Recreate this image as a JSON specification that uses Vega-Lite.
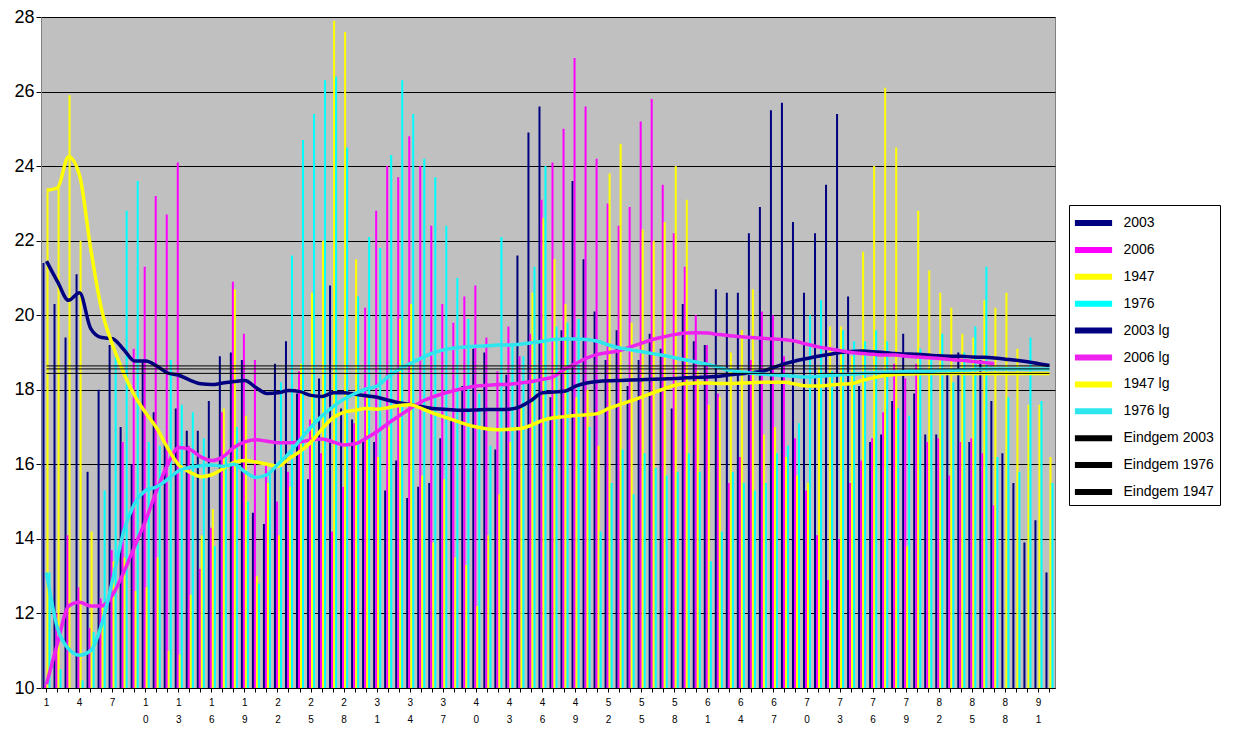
{
  "$schema": "https://vega.github.io/schema/vega-lite/v6.json",
  "width": 1014,
  "height": 671,
  "autosize": {"type": "none"},
  "padding": {"left": 41, "top": 17, "right": 179, "bottom": 51},
  "background": "white",
  "data": {
    "values": [
      {"d":1,"2003":21.4,"2006":10.1,"1947":23.3,"1976":13.1,"2003 lg":21.45,"2006 lg":10.1,"1947 lg":23.35,"1976 lg":13.1},
      {"d":2,"2003":20.3,"2006":12.0,"1947":23.4,"1976":10.5,"2003 lg":20.9,"2006 lg":11.2,"1947 lg":23.42,"1976 lg":11.6},
      {"d":3,"2003":19.4,"2006":14.1,"1947":25.9,"1976":10.0,"2003 lg":20.4,"2006 lg":12.2,"1947 lg":24.25,"1976 lg":11.05},
      {"d":4,"2003":21.1,"2006":12.7,"1947":22.0,"1976":10.2,"2003 lg":20.6,"2006 lg":12.3,"1947 lg":23.75,"1976 lg":10.88},
      {"d":5,"2003":15.8,"2006":11.6,"1947":14.2,"1976":11.5,"2003 lg":19.65,"2006 lg":12.2,"1947 lg":21.8,"1976 lg":11.0},
      {"d":6,"2003":18.0,"2006":12.4,"1947":12.2,"1976":15.3,"2003 lg":19.4,"2006 lg":12.2,"1947 lg":20.15,"1976 lg":11.7},
      {"d":7,"2003":19.2,"2006":13.7,"1947":13.4,"1976":18.9,"2003 lg":19.37,"2006 lg":12.5,"1947 lg":19.2,"1976 lg":12.9},
      {"d":8,"2003":17.0,"2006":16.6,"1947":13.5,"1976":22.8,"2003 lg":19.08,"2006 lg":13.1,"1947 lg":18.45,"1976 lg":14.2},
      {"d":9,"2003":16.0,"2006":19.1,"1947":12.6,"1976":23.6,"2003 lg":18.77,"2006 lg":13.8,"1947 lg":17.84,"1976 lg":14.95},
      {"d":10,"2003":18.8,"2006":21.3,"1947":12.7,"1976":16.6,"2003 lg":18.77,"2006 lg":14.5,"1947 lg":17.38,"1976 lg":15.3},
      {"d":11,"2003":17.4,"2006":23.2,"1947":13.5,"1976":16.5,"2003 lg":18.64,"2006 lg":15.3,"1947 lg":16.97,"1976 lg":15.4},
      {"d":12,"2003":16.6,"2006":22.7,"1947":11.0,"1976":18.8,"2003 lg":18.45,"2006 lg":16.0,"1947 lg":16.43,"1976 lg":15.6},
      {"d":13,"2003":17.5,"2006":24.1,"1947":10.9,"1976":17.6,"2003 lg":18.39,"2006 lg":16.45,"1947 lg":15.98,"1976 lg":15.83},
      {"d":14,"2003":16.9,"2006":16.5,"1947":12.5,"1976":17.4,"2003 lg":18.26,"2006 lg":16.4,"1947 lg":15.79,"1976 lg":15.92},
      {"d":15,"2003":16.9,"2006":13.2,"1947":14.1,"1976":16.7,"2003 lg":18.16,"2006 lg":16.2,"1947 lg":15.67,"1976 lg":15.96},
      {"d":16,"2003":17.7,"2006":14.3,"1947":14.8,"1976":13.8,"2003 lg":18.14,"2006 lg":16.1,"1947 lg":15.72,"1976 lg":15.98},
      {"d":17,"2003":18.9,"2006":17.4,"1947":17.5,"1976":16.2,"2003 lg":18.18,"2006 lg":16.2,"1947 lg":15.88,"1976 lg":15.95},
      {"d":18,"2003":19.0,"2006":20.9,"1947":20.7,"1976":17.0,"2003 lg":18.22,"2006 lg":16.45,"1947 lg":16.05,"1976 lg":16.0},
      {"d":19,"2003":18.8,"2006":19.5,"1947":17.3,"1976":15.0,"2003 lg":18.25,"2006 lg":16.6,"1947 lg":16.1,"1976 lg":15.8},
      {"d":20,"2003":14.7,"2006":18.8,"1947":13.0,"1976":12.8,"2003 lg":18.06,"2006 lg":16.66,"1947 lg":16.06,"1976 lg":15.65},
      {"d":21,"2003":14.4,"2006":16.0,"1947":15.5,"1976":15.8,"2003 lg":17.9,"2006 lg":16.62,"1947 lg":16.0,"1976 lg":15.72},
      {"d":22,"2003":18.7,"2006":15.0,"1947":14.1,"1976":18.2,"2003 lg":17.92,"2006 lg":16.58,"1947 lg":15.95,"1976 lg":16.0},
      {"d":23,"2003":19.3,"2006":15.8,"1947":15.4,"1976":21.6,"2003 lg":17.98,"2006 lg":16.58,"1947 lg":16.15,"1976 lg":16.3},
      {"d":24,"2003":17.9,"2006":18.5,"1947":18.7,"1976":24.7,"2003 lg":17.95,"2006 lg":16.6,"1947 lg":16.35,"1976 lg":16.65},
      {"d":25,"2003":15.6,"2006":17.2,"1947":20.6,"1976":25.4,"2003 lg":17.85,"2006 lg":16.66,"1947 lg":16.6,"1976 lg":17.0},
      {"d":26,"2003":18.3,"2006":16.3,"1947":22.0,"1976":26.3,"2003 lg":17.82,"2006 lg":16.68,"1947 lg":16.95,"1976 lg":17.3},
      {"d":27,"2003":20.8,"2006":14.2,"1947":27.9,"1976":26.4,"2003 lg":17.92,"2006 lg":16.6,"1947 lg":17.25,"1976 lg":17.55},
      {"d":28,"2003":17.5,"2006":15.4,"1947":27.6,"1976":24.5,"2003 lg":17.92,"2006 lg":16.52,"1947 lg":17.4,"1976 lg":17.75},
      {"d":29,"2003":17.2,"2006":17.1,"1947":21.5,"1976":20.5,"2003 lg":17.88,"2006 lg":16.55,"1947 lg":17.45,"1976 lg":17.9},
      {"d":30,"2003":16.6,"2006":20.2,"1947":17.8,"1976":22.1,"2003 lg":17.84,"2006 lg":16.7,"1947 lg":17.5,"1976 lg":18.02},
      {"d":31,"2003":16.6,"2006":22.8,"1947":16.2,"1976":21.8,"2003 lg":17.8,"2006 lg":16.88,"1947 lg":17.48,"1976 lg":18.1},
      {"d":32,"2003":15.3,"2006":24.0,"1947":17.0,"1976":24.3,"2003 lg":17.72,"2006 lg":17.1,"1947 lg":17.52,"1976 lg":18.35},
      {"d":33,"2003":16.1,"2006":23.7,"1947":19.9,"1976":26.3,"2003 lg":17.65,"2006 lg":17.3,"1947 lg":17.58,"1976 lg":18.55},
      {"d":34,"2003":15.1,"2006":24.8,"1947":20.3,"1976":25.4,"2003 lg":17.6,"2006 lg":17.5,"1947 lg":17.6,"1976 lg":18.7},
      {"d":35,"2003":15.4,"2006":24.0,"1947":15.7,"1976":24.2,"2003 lg":17.55,"2006 lg":17.68,"1947 lg":17.5,"1976 lg":18.85},
      {"d":36,"2003":15.5,"2006":22.4,"1947":13.9,"1976":23.7,"2003 lg":17.5,"2006 lg":17.8,"1947 lg":17.38,"1976 lg":18.98},
      {"d":37,"2003":16.7,"2006":20.3,"1947":15.6,"1976":22.4,"2003 lg":17.48,"2006 lg":17.9,"1947 lg":17.28,"1976 lg":19.07},
      {"d":38,"2003":17.2,"2006":19.8,"1947":13.5,"1976":21.0,"2003 lg":17.46,"2006 lg":17.98,"1947 lg":17.18,"1976 lg":19.12},
      {"d":39,"2003":18.1,"2006":20.5,"1947":13.3,"1976":19.9,"2003 lg":17.45,"2006 lg":18.05,"1947 lg":17.08,"1976 lg":19.15},
      {"d":40,"2003":19.1,"2006":20.8,"1947":12.2,"1976":17.9,"2003 lg":17.46,"2006 lg":18.1,"1947 lg":17.0,"1976 lg":19.17},
      {"d":41,"2003":19.0,"2006":19.4,"1947":14.1,"1976":16.5,"2003 lg":17.47,"2006 lg":18.12,"1947 lg":16.95,"1976 lg":19.18},
      {"d":42,"2003":16.4,"2006":18.5,"1947":15.2,"1976":22.1,"2003 lg":17.47,"2006 lg":18.14,"1947 lg":16.93,"1976 lg":19.2},
      {"d":43,"2003":18.4,"2006":19.7,"1947":16.6,"1976":19.2,"2003 lg":17.48,"2006 lg":18.15,"1947 lg":16.94,"1976 lg":19.2},
      {"d":44,"2003":21.6,"2006":18.9,"1947":17.6,"1976":18.9,"2003 lg":17.55,"2006 lg":18.18,"1947 lg":16.96,"1976 lg":19.22},
      {"d":45,"2003":24.9,"2006":19.5,"1947":20.6,"1976":21.3,"2003 lg":17.72,"2006 lg":18.22,"1947 lg":17.05,"1976 lg":19.26},
      {"d":46,"2003":25.6,"2006":23.1,"1947":22.6,"1976":24.0,"2003 lg":17.92,"2006 lg":18.28,"1947 lg":17.18,"1976 lg":19.3},
      {"d":47,"2003":17.8,"2006":24.1,"1947":21.5,"1976":19.7,"2003 lg":17.94,"2006 lg":18.35,"1947 lg":17.25,"1976 lg":19.35},
      {"d":48,"2003":19.6,"2006":25.0,"1947":20.3,"1976":19.8,"2003 lg":17.96,"2006 lg":18.55,"1947 lg":17.28,"1976 lg":19.36},
      {"d":49,"2003":23.6,"2006":26.9,"1947":17.8,"1976":19.9,"2003 lg":18.1,"2006 lg":18.7,"1947 lg":17.31,"1976 lg":19.36},
      {"d":50,"2003":21.5,"2006":25.6,"1947":18.0,"1976":17.0,"2003 lg":18.18,"2006 lg":18.85,"1947 lg":17.33,"1976 lg":19.35},
      {"d":51,"2003":20.1,"2006":24.2,"1947":16.5,"1976":14.2,"2003 lg":18.22,"2006 lg":18.95,"1947 lg":17.36,"1976 lg":19.3},
      {"d":52,"2003":18.8,"2006":23.0,"1947":23.8,"1976":15.5,"2003 lg":18.24,"2006 lg":19.0,"1947 lg":17.5,"1976 lg":19.2},
      {"d":53,"2003":19.6,"2006":22.4,"1947":24.6,"1976":16.4,"2003 lg":18.25,"2006 lg":19.05,"1947 lg":17.6,"1976 lg":19.12},
      {"d":54,"2003":18.1,"2006":22.9,"1947":19.8,"1976":15.2,"2003 lg":18.26,"2006 lg":19.15,"1947 lg":17.7,"1976 lg":19.07},
      {"d":55,"2003":18.8,"2006":25.2,"1947":22.3,"1976":16.3,"2003 lg":18.27,"2006 lg":19.25,"1947 lg":17.8,"1976 lg":19.02},
      {"d":56,"2003":19.5,"2006":25.8,"1947":22.0,"1976":15.9,"2003 lg":18.28,"2006 lg":19.35,"1947 lg":17.92,"1976 lg":18.97},
      {"d":57,"2003":19.1,"2006":23.5,"1947":22.5,"1976":15.7,"2003 lg":18.29,"2006 lg":19.42,"1947 lg":18.02,"1976 lg":18.92},
      {"d":58,"2003":17.5,"2006":22.2,"1947":24.0,"1976":15.8,"2003 lg":18.3,"2006 lg":19.48,"1947 lg":18.12,"1976 lg":18.86},
      {"d":59,"2003":20.3,"2006":21.3,"1947":23.1,"1976":16.3,"2003 lg":18.32,"2006 lg":19.52,"1947 lg":18.17,"1976 lg":18.8},
      {"d":60,"2003":19.3,"2006":20.0,"1947":18.5,"1976":15.8,"2003 lg":18.33,"2006 lg":19.53,"1947 lg":18.18,"1976 lg":18.74},
      {"d":61,"2003":19.2,"2006":19.2,"1947":17.6,"1976":13.4,"2003 lg":18.34,"2006 lg":19.52,"1947 lg":18.18,"1976 lg":18.68},
      {"d":62,"2003":20.7,"2006":17.9,"1947":17.8,"1976":14.2,"2003 lg":18.36,"2006 lg":19.48,"1947 lg":18.17,"1976 lg":18.6},
      {"d":63,"2003":20.6,"2006":15.5,"1947":19.0,"1976":15.8,"2003 lg":18.4,"2006 lg":19.45,"1947 lg":18.17,"1976 lg":18.52},
      {"d":64,"2003":20.6,"2006":16.2,"1947":19.6,"1976":15.5,"2003 lg":18.43,"2006 lg":19.42,"1947 lg":18.18,"1976 lg":18.48},
      {"d":65,"2003":22.2,"2006":18.8,"1947":20.7,"1976":15.3,"2003 lg":18.46,"2006 lg":19.4,"1947 lg":18.19,"1976 lg":18.45},
      {"d":66,"2003":22.9,"2006":20.1,"1947":16.8,"1976":15.5,"2003 lg":18.5,"2006 lg":19.38,"1947 lg":18.2,"1976 lg":18.42},
      {"d":67,"2003":25.5,"2006":20.0,"1947":17.0,"1976":16.3,"2003 lg":18.6,"2006 lg":19.36,"1947 lg":18.2,"1976 lg":18.4},
      {"d":68,"2003":25.7,"2006":18.9,"1947":16.2,"1976":16.5,"2003 lg":18.7,"2006 lg":19.34,"1947 lg":18.2,"1976 lg":18.38},
      {"d":69,"2003":22.5,"2006":16.7,"1947":15.7,"1976":17.1,"2003 lg":18.78,"2006 lg":19.3,"1947 lg":18.15,"1976 lg":18.36},
      {"d":70,"2003":20.6,"2006":15.3,"1947":15.5,"1976":20.0,"2003 lg":18.84,"2006 lg":19.22,"1947 lg":18.1,"1976 lg":18.34},
      {"d":71,"2003":22.2,"2006":14.1,"1947":18.6,"1976":20.4,"2003 lg":18.9,"2006 lg":19.15,"1947 lg":18.1,"1976 lg":18.36},
      {"d":72,"2003":23.5,"2006":12.9,"1947":19.7,"1976":18.5,"2003 lg":18.95,"2006 lg":19.1,"1947 lg":18.12,"1976 lg":18.38},
      {"d":73,"2003":25.4,"2006":14.0,"1947":19.7,"1976":19.6,"2003 lg":19.0,"2006 lg":19.05,"1947 lg":18.15,"1976 lg":18.4},
      {"d":74,"2003":20.5,"2006":15.5,"1947":18.9,"1976":19.3,"2003 lg":19.03,"2006 lg":19.0,"1947 lg":18.16,"1976 lg":18.42},
      {"d":75,"2003":18.1,"2006":16.1,"1947":21.7,"1976":19.3,"2003 lg":19.04,"2006 lg":18.97,"1947 lg":18.25,"1976 lg":18.44},
      {"d":76,"2003":16.6,"2006":16.7,"1947":24.0,"1976":19.6,"2003 lg":19.02,"2006 lg":18.95,"1947 lg":18.32,"1976 lg":18.46},
      {"d":77,"2003":16.8,"2006":17.4,"1947":26.1,"1976":19.3,"2003 lg":19.0,"2006 lg":18.93,"1947 lg":18.38,"1976 lg":18.47},
      {"d":78,"2003":17.7,"2006":18.7,"1947":24.5,"1976":17.5,"2003 lg":18.97,"2006 lg":18.93,"1947 lg":18.41,"1976 lg":18.48},
      {"d":79,"2003":19.5,"2006":18.3,"1947":13.8,"1976":17.3,"2003 lg":18.96,"2006 lg":18.9,"1947 lg":18.42,"1976 lg":18.49},
      {"d":80,"2003":17.9,"2006":18.7,"1947":22.8,"1976":19.1,"2003 lg":18.95,"2006 lg":18.88,"1947 lg":18.43,"1976 lg":18.5},
      {"d":81,"2003":16.8,"2006":16.6,"1947":21.2,"1976":18.9,"2003 lg":18.93,"2006 lg":18.86,"1947 lg":18.44,"1976 lg":18.5},
      {"d":82,"2003":16.8,"2006":16.7,"1947":20.6,"1976":19.5,"2003 lg":18.91,"2006 lg":18.84,"1947 lg":18.44,"1976 lg":18.51},
      {"d":83,"2003":18.4,"2006":15.7,"1947":20.2,"1976":18.2,"2003 lg":18.9,"2006 lg":18.81,"1947 lg":18.44,"1976 lg":18.52},
      {"d":84,"2003":19.0,"2006":16.6,"1947":19.5,"1976":19.0,"2003 lg":18.9,"2006 lg":18.79,"1947 lg":18.44,"1976 lg":18.53},
      {"d":85,"2003":16.6,"2006":16.7,"1947":19.4,"1976":19.7,"2003 lg":18.88,"2006 lg":18.76,"1947 lg":18.44,"1976 lg":18.54},
      {"d":86,"2003":18.8,"2006":16.3,"1947":20.4,"1976":21.3,"2003 lg":18.87,"2006 lg":18.73,"1947 lg":18.44,"1976 lg":18.56},
      {"d":87,"2003":17.7,"2006":14.9,"1947":20.2,"1976":16.2,"2003 lg":18.85,"2006 lg":18.7,"1947 lg":18.44,"1976 lg":18.56},
      {"d":88,"2003":16.3,"1947":20.6,"1976":17.8,"2003 lg":18.82,"1947 lg":18.44,"1976 lg":18.56},
      {"d":89,"2003":15.5,"1947":19.1,"1976":15.8,"2003 lg":18.79,"1947 lg":18.44,"1976 lg":18.56},
      {"d":90,"2003":13.9,"1947":17.6,"1976":19.4,"2003 lg":18.75,"1947 lg":18.44,"1976 lg":18.56},
      {"d":91,"2003":14.5,"1947":17.6,"1976":17.7,"2003 lg":18.7,"1947 lg":18.44,"1976 lg":18.56},
      {"d":92,"2003":13.1,"1947":16.2,"1976":15.5,"2003 lg":18.65,"1947 lg":18.44,"1976 lg":18.56}
    ]
  },
  "layer": [
    {
      "transform": [
        {"fold": ["2003", "2006", "1947", "1976"], "as": ["s", "v"]},
        {"filter": "isValid(datum.v)"}
      ],
      "mark": {"type": "bar", "clip": true},
      "encoding": {
        "x": {
          "field": "d",
          "type": "ordinal",
          "scale": {"paddingInner": 0.27, "paddingOuter": 0.135},
          "axis": {
            "title": null,
            "labelExpr": "(datum.value - 1) % 3 == 0 ? split(datum.label, '') : ''",
            "labelAngle": 0,
            "labelFontSize": 10,
            "labelColor": "black",
            "labelLineHeight": 17,
            "labelBaseline": "top",
            "labelPadding": 5,
            "labelOverlap": false,
            "tickSize": 4,
            "tickColor": "black",
            "domainColor": "black",
            "grid": false
          }
        },
        "xOffset": {
          "field": "s",
          "type": "nominal",
          "scale": {"domain": ["2003", "2006", "1947", "1976"], "paddingInner": 0, "paddingOuter": 0}
        },
        "y": {
          "field": "v",
          "type": "quantitative",
          "scale": {"domain": [10, 28], "zero": false, "nice": false},
          "axis": {
            "title": null,
            "values": [10, 12, 14, 16, 18, 20, 22, 24, 26, 28],
            "grid": true,
            "gridColor": "black",
            "gridOpacity": 1,
            "gridWidth": 1,
            "tickColor": "black",
            "tickSize": 5,
            "labelFontSize": 18,
            "labelColor": "black",
            "labelPadding": 2,
            "domainColor": "#808080"
          }
        },
        "color": {
          "field": "s",
          "type": "nominal",
          "scale": {
            "domain": ["2003", "2006", "1947", "1976", "2003 lg", "2006 lg", "1947 lg", "1976 lg", "Eindgem 2003", "Eindgem 1976", "Eindgem 1947"],
            "range": ["#000080", "#FF00FF", "#FFFF00", "#00FFFF", "#000080", "#EE22EE", "#FFFF00", "#2EE6EE", "#000000", "#000000", "#000000"]
          },
          "legend": {
            "title": null,
            "orient": "none",
            "legendX": 1028,
            "legendY": 188,
            "strokeColor": "black",
            "fillColor": "white",
            "padding": 6,
            "symbolType": "M-1.55,-0.25H1.55V0.25H-1.55Z",
            "symbolSize": 576,
            "symbolOffset": 6.5,
            "symbolStrokeWidth": 0,
            "rowPadding": 7.9,
            "labelOffset": 18,
            "labelFontSize": 14,
            "labelColor": "black"
          }
        }
      }
    },
    {
      "transform": [
        {"fold": ["2003 lg", "2006 lg", "1947 lg", "1976 lg"], "as": ["s", "v"]},
        {"filter": "isValid(datum.v)"}
      ],
      "mark": {"type": "line", "strokeWidth": 3.5, "interpolate": "monotone"},
      "encoding": {
        "x": {"field": "d", "type": "ordinal"},
        "y": {"field": "v", "type": "quantitative"},
        "color": {"field": "s", "type": "nominal"}
      }
    },
    {
      "data": {
        "values": [
          {"s": "Eindgem 2003", "v": 18.64, "d": 1},
          {"s": "Eindgem 2003", "v": 18.64, "d": 92},
          {"s": "Eindgem 1976", "v": 18.56, "d": 1},
          {"s": "Eindgem 1976", "v": 18.56, "d": 92},
          {"s": "Eindgem 1947", "v": 18.44, "d": 1},
          {"s": "Eindgem 1947", "v": 18.44, "d": 92}
        ]
      },
      "mark": {"type": "line", "strokeWidth": 1},
      "encoding": {
        "x": {"field": "d", "type": "ordinal"},
        "y": {"field": "v", "type": "quantitative"},
        "color": {"field": "s", "type": "nominal"}
      }
    }
  ],
  "config": {
    "font": "Liberation Sans",
    "view": {"fill": "#C0C0C0", "stroke": "#808080"}
  }
}
